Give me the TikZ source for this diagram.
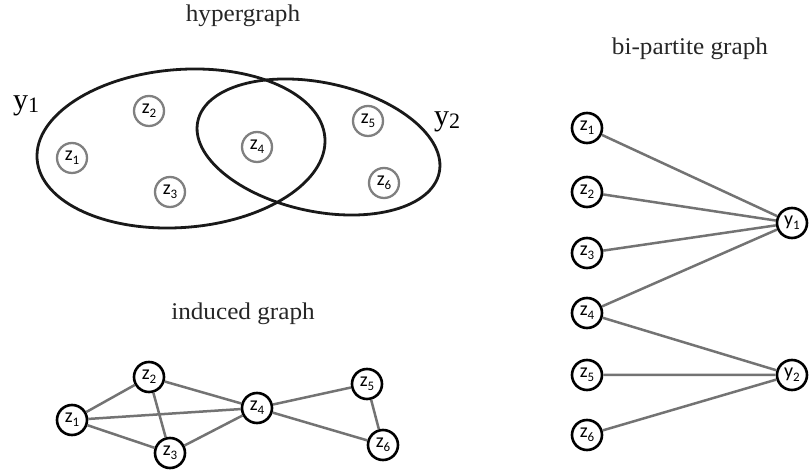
\documentclass[tikz,border=0pt]{standalone}
\usepackage{fontspec}
\setmainfont{Liberation Serif}
\newfontfamily\titlefont[FakeStretch=1.05]{Liberation Serif}
\newfontfamily\nodefont{Carlito}
\newcommand\lab[2]{{\nodefont\fontsize{20}{20}\selectfont #1\raisebox{-0.4ex}{\fontsize{13}{13}\selectfont #2}}}
\newcommand\biglab[2]{{\fontsize{30}{30}\selectfont #1\raisebox{-0.2ex}{\fontsize{22}{22}\selectfont #2}}}
\tikzset{
  title/.style={font=\titlefont\fontsize{24}{24}\selectfont, text=black!85},
  hnode/.style={circle, draw=black!50, line width=2.3pt, minimum size=30pt, inner sep=0pt},
  gnode/.style={circle, draw=black, line width=2.6pt, fill=white, minimum size=30pt, inner sep=0pt},
  edge/.style={draw=black!55, line width=2.5pt},
  hedge/.style={draw=black!90, line width=2.8pt},
}
\begin{document}
\begin{tikzpicture}[x=1pt,y=1pt]
\useasboundingbox (0,0) rectangle (809,471);
% titles
\node[title] (t1) at (243,455) {hypergraph};
\node[title] (t2) at (243,157) {induced graph};
\node[title] (t3) at (690,422) {bi-partite graph};
% hypergraph
\draw[hedge, rotate around={4.3:(181,322.5)}] (181,322.5) ellipse [x radius=144.3, y radius=79];
\draw[hedge, rotate around={-12:(318.5,324)}] (318.5,324) ellipse [x radius=123.4, y radius=64.4];
\node (ly1) at (26,365) {\biglab{y}{1}};
\node (ly2) at (447,349) {\biglab{y}{2}};
\node[hnode] (h1) at (72,313) {\lab{z}{1}};
\node[hnode] (h2) at (149,360) {\lab{z}{2}};
\node[hnode] (h3) at (170,279) {\lab{z}{3}};
\node[hnode] (h4) at (257,324) {\lab{z}{4}};
\node[hnode] (h5) at (368,350) {\lab{z}{5}};
\node[hnode] (h6) at (384,288) {\lab{z}{6}};
% induced graph
\node[gnode] (i1) at (72,51) {\lab{z}{1}};
\node[gnode] (i2) at (149,94) {\lab{z}{2}};
\node[gnode] (i3) at (170,18) {\lab{z}{3}};
\node[gnode] (i4) at (257,63) {\lab{z}{4}};
\node[gnode] (i5) at (367,87) {\lab{z}{5}};
\node[gnode] (i6) at (383,26) {\lab{z}{6}};
\path[edge] (i1) -- (i2) (i1) -- (i4) (i1) -- (i3) (i2) -- (i3) (i2) -- (i4)
  (i3) -- (i4) (i4) -- (i5) (i4) -- (i6) (i5) -- (i6);
% bipartite graph
\node[gnode] (b1) at (587,343) {\lab{z}{1}};
\node[gnode] (b2) at (587,279) {\lab{z}{2}};
\node[gnode] (b3) at (587,218) {\lab{z}{3}};
\node[gnode] (b4) at (587,158) {\lab{z}{4}};
\node[gnode] (b5) at (587,96) {\lab{z}{5}};
\node[gnode] (b6) at (587,36) {\lab{z}{6}};
\node[gnode] (y1) at (792,248) {\lab{y}{1}};
\node[gnode] (y2) at (792,96) {\lab{y}{2}};
\path[edge] (b1) -- (y1) (b2) -- (y1) (b3) -- (y1) (b4) -- (y1)
  (b4) -- (y2) (b5) -- (y2) (b6) -- (y2);
\end{tikzpicture}
\end{document}
